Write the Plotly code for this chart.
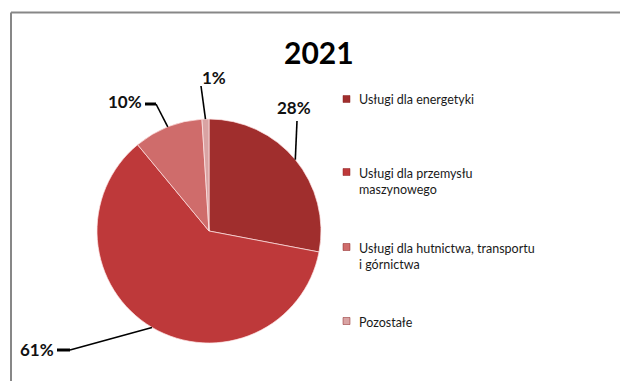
import math
import plotly.graph_objects as go

# ---- data ----
title_text = "2021"
categories = [
    "Usługi dla energetyki",
    "Usługi dla przemysłu<br>maszynowego",
    "Usługi dla hutnictwa, transportu<br>i górnictwa",
    "Pozostałe",
]
values = [28, 61, 10, 1]
label_texts = ["28%", "61%", "10%", "1%"]

# ---- style / layout config ----
colors = ["#A02E2D", "#BE393A", "#CF6C6B", "#D9A3A3"]
W, H = 620, 381
CX, CY, R = 209, 231, 112          # pie centre/radius in pixels
FONT = "Lato"

def px(x):
    return x / W

def py(y):
    return 1 - y / H

fig = go.Figure()
fig.add_trace(go.Pie(
    labels=[c.replace("<br>", " ") for c in categories],
    values=values,
    sort=False,
    direction="clockwise",
    rotation=0,
    textinfo="none",
    hoverinfo="label+percent",
    marker=dict(colors=colors, line=dict(color="rgba(255,230,230,0.7)", width=1)),
    domain=dict(x=[px(CX - R), px(CX + R)], y=[py(CY + R), py(CY - R)]),
    showlegend=False,
))

shapes = []
annotations = []

# frame (top and left edges visible)
shapes.append(dict(type="line", xref="paper", yref="paper", x0=px(11), y0=py(12.5), x1=px(625), y1=py(12.5),
                   line=dict(color="#878787", width=2)))
shapes.append(dict(type="line", xref="paper", yref="paper", x0=px(11), y0=py(12.5), x1=px(11), y1=py(390),
                   line=dict(color="#878787", width=2)))

# leader-line configuration: elbow point, stub end, label anchor (pixels)
leaders = [
    dict(elbow=(297, 121), stub=None, label=(294, 107), anchor="center"),
    dict(elbow=(70, 350), stub=(57, 350), label=(56, 349), anchor="right"),
    dict(elbow=(156, 104), stub=(145, 104), label=(144, 101), anchor="right"),
    dict(elbow=(201, 86), stub=None, label=(214, 77), anchor="center"),
]

total = sum(values)
cum = 0
for v, txt, cfg in zip(values, label_texts, leaders):
    mid = (cum + v / 2) / total * 2 * math.pi
    cum += v
    ex = CX + R * math.sin(mid)
    ey = CY - R * math.cos(mid)
    ex2, ey2 = cfg["elbow"]
    shapes.append(dict(type="line", xref="paper", yref="paper", x0=px(ex), y0=py(ey), x1=px(ex2), y1=py(ey2),
                       line=dict(color="black", width=1.6)))
    if cfg["stub"]:
        sx, sy = cfg["stub"]
        shapes.append(dict(type="line", xref="paper", yref="paper", x0=px(ex2), y0=py(ey2), x1=px(sx), y1=py(sy),
                           line=dict(color="black", width=3)))
    lx, ly = cfg["label"]
    annotations.append(dict(x=px(lx), y=py(ly), xref="paper", yref="paper", text="<b>%s</b>" % txt,
                            showarrow=False, xanchor=cfg["anchor"], yanchor="middle",
                            font=dict(family=FONT, size=17, color="#111111")))

# manual legend
legend_rows = [99, 172, 247, 321]
for cat, col, ry in zip(categories, colors, legend_rows):
    shapes.append(dict(type="rect", xref="paper", yref="paper", x0=px(343), x1=px(350), y0=py(ry - 3.5), y1=py(ry + 3.5),
                       fillcolor=col, line=dict(color="#8a2020", width=0.5)))
    annotations.append(dict(x=px(357), y=py(ry - 8.5), xref="paper", yref="paper", text=cat, align="left",
                            showarrow=False, xanchor="left", yanchor="top",
                            font=dict(family=FONT, size=12.5, color="#1a1a1a")))

# title
annotations.append(dict(x=px(319), y=py(52), xref="paper", yref="paper", text="<b>%s</b>" % title_text,
                        showarrow=False, xanchor="center", yanchor="middle",
                        font=dict(family=FONT, size=30, color="black")))

fig.update_layout(
    width=W, height=H,
    margin=dict(l=0, r=0, t=0, b=0),
    paper_bgcolor="white",
    plot_bgcolor="white",
    shapes=shapes,
    annotations=annotations,
    showlegend=False,
)

fig.write_html("out.html")
